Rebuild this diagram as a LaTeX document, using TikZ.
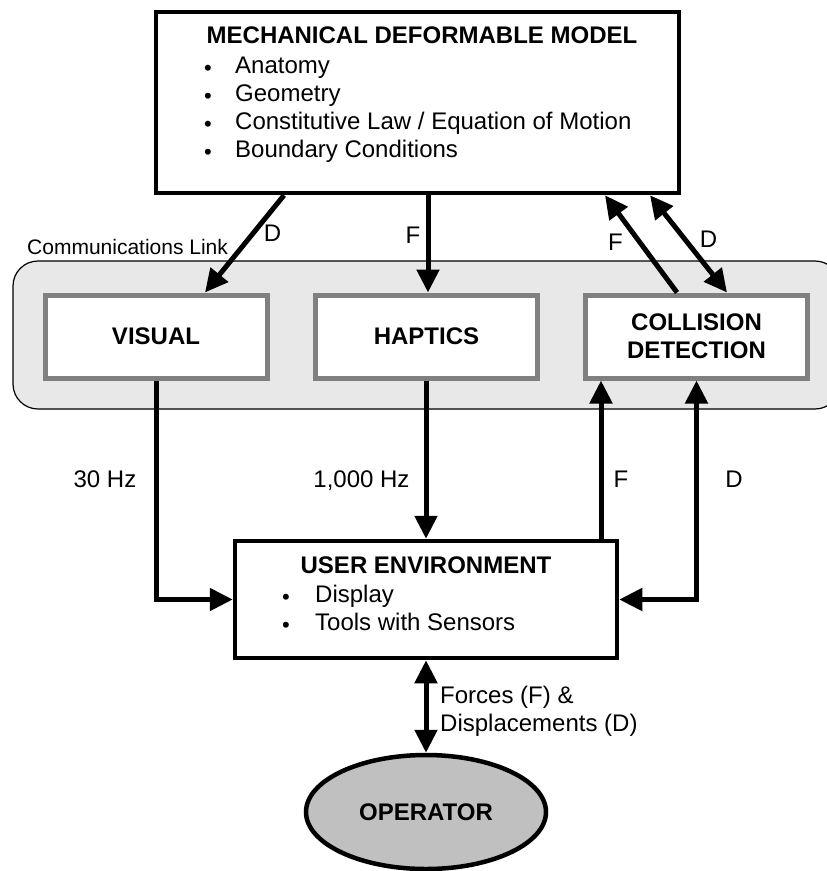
\documentclass[tikz,border=0pt]{standalone}
\usepackage{fontspec}
\setmainfont{Liberation Sans}
\usetikzlibrary{arrows.meta,shapes.geometric,calc}
\definecolor{commfill}{HTML}{E8E8E8}
\definecolor{boxgray}{HTML}{808080}
\definecolor{opfill}{HTML}{C0C0C0}
\begin{document}
\begin{tikzpicture}[x=1pt,y=-1pt,
  lbl/.style={font=\fontsize{24}{28}\selectfont, inner sep=0pt},
  ttl/.style={font=\fontsize{24}{28}\selectfont\bfseries, inner sep=0pt, align=center},
  blk/.style={draw=black, line width=4.5pt, fill=white, inner sep=0pt},
  gbox/.style={draw=boxgray, line width=5pt, fill=white, inner sep=0pt,
    minimum width=222pt, minimum height=83pt, font=\fontsize{24}{28}\selectfont\bfseries, align=center},
  arr/.style={line width=5pt, -{Triangle[length=23pt,width=22pt]}},
  darr/.style={line width=5pt, {Triangle[length=23pt,width=22pt]}-{Triangle[length=23pt,width=22pt]}},
  bul/.style={font=\fontsize{22}{22}\selectfont, inner sep=0pt, anchor=base},
  item/.style={lbl, anchor=base west},
]
\useasboundingbox (0,0) rectangle (827,871);

% communications link background
\node[draw=black, line width=1.2pt, fill=commfill, rounded corners=25pt,
      minimum width=827pt, minimum height=148pt, inner sep=0pt] (comm) at (426.5,335) {};
\node[font=\fontsize{21}{24}\selectfont, inner sep=0pt, anchor=base west] (commL) at (27,254) {Communications Link};

% mechanical deformable model
\node[blk, minimum width=523pt, minimum height=181pt] (mdm) at (417.5,102.5) {};
\node[ttl] (mdmT) at (422,35) {MECHANICAL DEFORMABLE MODEL};
\node[bul] (mb1) at (208,75.5) {\textbullet};
\node[item] (mi1) at (235,73.5) {Anatomy};
\node[bul] (mb2) at (208,103.5) {\textbullet};
\node[item] (mi2) at (235,101.5) {Geometry};
\node[bul] (mb3) at (208,131.5) {\textbullet};
\node[item] (mi3) at (235,129.5) {Constitutive Law / Equation of Motion};
\node[bul] (mb4) at (208,159.5) {\textbullet};
\node[item] (mi4) at (235,157.5) {Boundary Conditions};

% module boxes
\node[gbox] (vis) at (156,336.5) {VISUAL};
\node[gbox] (hap) at (426.5,336.5) {HAPTICS};
\node[gbox] (col) at (696.5,336.5) {COLLISION\\DETECTION};

% user environment
\node[blk, minimum width=382pt, minimum height=117pt] (user) at (426,599.5) {};
\node[ttl] (userT) at (426,565) {USER ENVIRONMENT};
\node[bul] (ub1) at (286,604) {\textbullet};
\node[item] (ui1) at (315,602) {Display};
\node[bul] (ub2) at (286,632) {\textbullet};
\node[item] (ui2) at (315,630) {Tools with Sensors};

% operator
\node[ellipse, draw=black, line width=4.5pt, fill=opfill, minimum width=240pt,
      minimum height=114pt, inner sep=0pt, font=\fontsize{24}{28}\selectfont\bfseries] (op) at (426,812) {OPERATOR};

% coordinates for vertical connectors
\coordinate (xF) at (428,0);
\coordinate (xFu) at (601,0);

% connectors from the model
\draw[arr] ([xshift=-133.5pt]mdm.south) -- ([xshift=49pt]vis.north);
\draw[arr] (mdm.south -| xF) -- (hap.north -| xF);
\draw[arr] ([xshift=-19.5pt]col.north) -- ([xshift=187.5pt]mdm.south);
\draw[darr] ([xshift=232.5pt]mdm.south) -- ([xshift=30.5pt]col.north);

% connectors to the user environment
\draw[arr] (vis.south) |- (user.west);
\draw[arr] (hap.south -| user.north) -- (user.north);
\draw[arr] (user.north -| xFu) -- (col.south -| xFu);
\draw[darr] (user.east) -| (col.south);
\draw[darr] (user.south) -- (op.north);

% labels
\node[lbl, anchor=base] (lD1) at (272.5,241.5) {D};
\node[lbl, anchor=base] (lF1) at (413,243.5) {F};
\node[lbl, anchor=base] (lF2) at (615.5,250.5) {F};
\node[lbl, anchor=base] (lD2) at (708.5,247.5) {D};
\node[lbl, anchor=base] (l30) at (105,487.5) {30 Hz};
\node[lbl, anchor=base] (l1000) at (361.5,487.5) {1,000 Hz};
\node[lbl, anchor=base] (lF3) at (621,487.5) {F};
\node[lbl, anchor=base] (lD3) at (734,487.5) {D};
\node[lbl, anchor=west, align=left] (lFD) at (440,711) {Forces (F) \&\\Displacements (D)};
\end{tikzpicture}
\end{document}
